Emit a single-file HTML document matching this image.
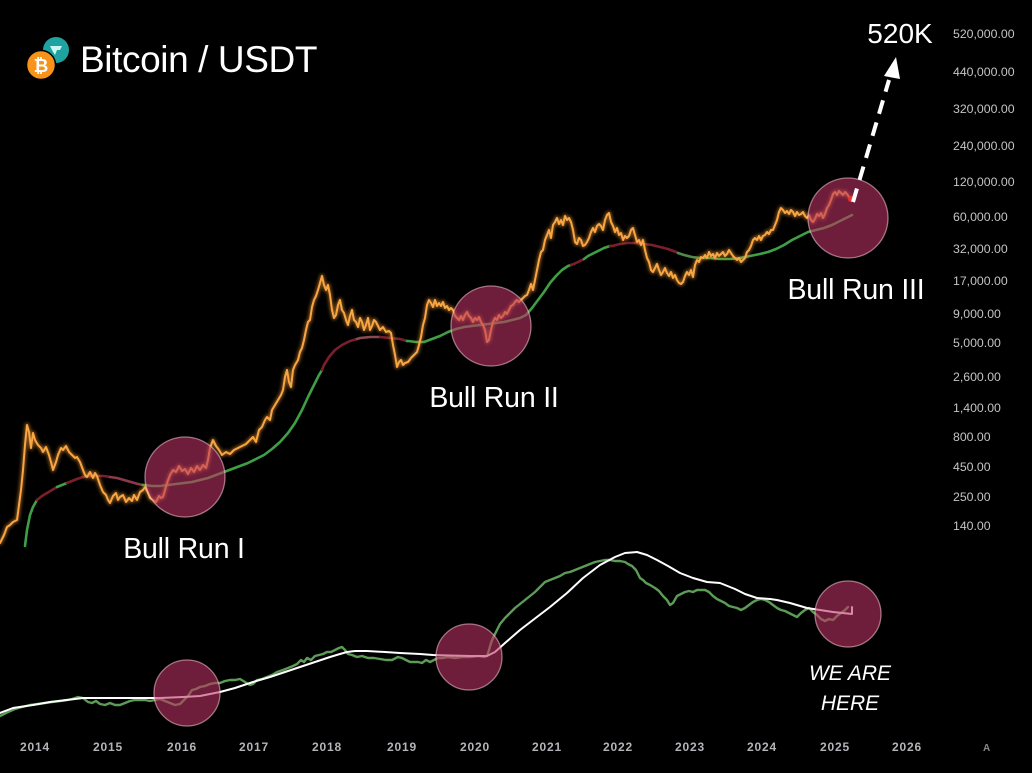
<!DOCTYPE html>
<html><head><meta charset="utf-8"><style>
html,body{margin:0;padding:0;background:#000;}
svg{display:block;}
</style></head><body>
<svg width="1032" height="773" viewBox="0 0 1032 773" xmlns="http://www.w3.org/2000/svg">
<defs>
<filter id="glow" x="-5%" y="-5%" width="110%" height="110%"><feGaussianBlur stdDeviation="1.5"/></filter>
<polyline id="price" fill="none" stroke-linecap="round" stroke-linejoin="round" points="0,543 4,535 7,527 10,525 13,522 17,520 19,505 21,490 23,470 25,445 27,425 29,432 31,448 33,433 35,440 38,445 41,448 43,452 46,447 49,455 51,462 53,470 56,462 58,455 61,448 63,450 66,446 69,452 72,455 75,458 77,457 80,462 83,470 85,475 87,477 90,472 93,478 95,473 97,476 100,485 103,492 106,495 108,500 110,503 113,496 116,493 118,500 120,497 123,495 126,502 129,498 132,501 134,495 137,500 140,492 143,490 145,487 148,493 150,498 153,500 156,502 159,496 161,498 163,497 165,490 167,483 170,475 173,470 176,472 179,466 182,471 185,469 188,474 191,468 194,472 197,466 200,470 203,465 206,468 208,460 210,448 213,440 216,446 219,450 222,455 226,452 230,454 234,450 238,448 242,446 246,444 250,440 253,437 256,442 259,430 262,427 265,420 267,417 270,420 272,410 275,405 278,400 281,395 283,390 285,377 287,370 289,382 291,387 293,370 295,365 298,360 300,352 302,348 304,340 306,330 308,322 310,320 312,307 314,300 316,296 318,290 320,283 322,276 324,285 326,290 328,285 330,295 332,310 334,318 336,315 338,305 340,300 342,310 344,313 346,320 348,325 350,316 352,310 354,320 356,322 358,327 360,318 362,322 364,330 366,325 368,318 370,330 372,326 374,320 376,322 378,326 380,330 383,327 386,332 389,331 391,333 393,345 395,355 397,367 399,362 401,360 403,365 405,363 408,362 411,358 414,355 417,352 419,345 421,337 423,325 425,318 427,305 429,300 431,303 433,307 435,300 437,306 439,303 441,306 443,302 445,308 447,306 449,310 451,308 453,310 455,316 457,318 459,320 461,316 463,320 465,315 467,312 469,316 471,318 473,322 475,318 477,320 479,317 481,322 483,325 485,330 487,342 489,340 491,330 493,322 495,318 497,320 499,315 501,318 503,316 505,312 507,314 509,310 511,306 513,305 515,302 517,300 519,302 521,300 523,298 525,296 527,295 529,290 531,284 533,290 535,280 537,270 539,260 541,252 543,250 545,240 547,235 549,230 551,238 553,225 555,222 557,218 559,224 561,220 563,225 565,216 567,220 569,218 571,222 573,230 575,242 577,244 579,238 581,240 583,246 585,245 587,242 589,238 591,232 593,228 595,232 597,226 599,224 601,226 603,230 605,220 607,215 609,213 611,222 613,226 615,232 617,228 619,235 621,233 623,240 625,236 627,238 629,236 631,230 633,228 635,235 637,242 639,240 641,245 643,240 645,250 647,258 649,262 651,270 653,272 655,268 657,264 659,270 661,275 663,272 665,268 667,273 669,276 671,272 673,278 675,275 677,280 679,283 681,284 683,282 685,276 687,272 689,275 691,270 693,277 695,265 697,260 699,262 701,257 703,258 705,255 707,258 709,252 711,256 713,254 715,258 717,253 719,256 721,254 723,252 725,256 727,254 729,250 731,253 733,256 735,258 737,260 739,258 741,262 743,260 745,258 747,252 749,250 751,246 753,240 755,238 757,240 759,236 761,240 763,236 765,235 767,232 769,234 771,230 773,230 775,225 777,220 779,212 781,208 783,210 785,213 787,211 789,214 791,210 793,212 795,216 797,212 799,215 801,214 803,212 805,216 807,218 809,215 811,220 813,222 815,219 817,214 819,216 821,213 823,218 825,214 827,208 829,205 831,200 833,194 835,192 837,195 839,191 841,193 843,195 845,192 847,194 849,197 851,198"/>
</defs>
<rect width="1032" height="773" fill="#000"/>

<!-- title -->
<circle cx="56" cy="50" r="13" fill="#1fa3a0"/>
<path d="M50 46 L62 46 L60 50 L57 50 L55 55 L52 50 Z" fill="#dff" opacity="0.9"/>
<circle cx="41" cy="65" r="14.5" fill="#f7931a" stroke="#000" stroke-width="1.5"/>
<text x="41" y="72" font-family="Liberation Sans, DejaVu Sans, sans-serif" font-size="18" font-weight="bold" fill="#fff" text-anchor="middle">₿</text>
<text x="80" y="72" font-family="Liberation Sans, sans-serif" font-size="37" fill="#fff" letter-spacing="-0.4">Bitcoin / USDT</text>

<!-- y axis labels -->
<g font-family="Liberation Sans, sans-serif" font-size="12.3" fill="#c4c4c8">
<text x="953" y="38">520,000.00</text>
<text x="953" y="76">440,000.00</text>
<text x="953" y="113">320,000.00</text>
<text x="953" y="150">240,000.00</text>
<text x="953" y="186">120,000.00</text>
<text x="953" y="221">60,000.00</text>
<text x="953" y="253">32,000.00</text>
<text x="953" y="285">17,000.00</text>
<text x="953" y="318">9,000.00</text>
<text x="953" y="347">5,000.00</text>
<text x="953" y="381">2,600.00</text>
<text x="953" y="412">1,400.00</text>
<text x="953" y="441">800.00</text>
<text x="953" y="471">450.00</text>
<text x="953" y="501">250.00</text>
<text x="953" y="530">140.00</text>
</g>

<!-- x axis labels -->
<g font-family="Liberation Sans, sans-serif" font-size="12" font-weight="bold" fill="#b4b4b8" text-anchor="middle" letter-spacing="0.8">
<text x="35" y="751">2014</text>
<text x="108" y="751">2015</text>
<text x="182" y="751">2016</text>
<text x="254" y="751">2017</text>
<text x="327" y="751">2018</text>
<text x="402" y="751">2019</text>
<text x="475" y="751">2020</text>
<text x="547" y="751">2021</text>
<text x="618" y="751">2022</text>
<text x="690" y="751">2023</text>
<text x="762" y="751">2024</text>
<text x="835" y="751">2025</text>
<text x="907" y="751">2026</text>
<text x="987" y="751" font-size="10" fill="#888">A</text>
</g>

<!-- price moving average -->
<g fill="none" stroke-width="2.6" stroke-linecap="round" stroke-linejoin="round">
<polyline stroke="#3f9f45" points="25,546 27,530 30,515 33,507 37,500"/>
<polyline stroke="#7a1f2c" points="37,500 42,496 47,493 52,490 57,487"/>
<polyline stroke="#3f9f45" points="57,487 62,485 67,483"/>
<polyline stroke="#7a1f2c" points="67,483 72,481 77,479 83,477 90,476 97,476 104,476 110,477"/>
<polyline stroke="#8a3a48" points="110,477 117,478 124,480 131,482 138,484 143,485"/>
<polyline stroke="#3f9f45" points="143,485 145,485 152,486 160,486 168,485 176,484 184,483 192,482 200,480 208,478 216,475 224,472 232,469 240,466 248,463 256,459 264,455 272,449 280,442 288,433 295,423 302,410 308,397 314,385 319,375 322,370"/>
<polyline stroke="#7a1f2c" points="322,370 324,365 329,357 335,350 342,345 350,341 357,339"/>
<polyline stroke="#8a4a52" points="357,339 360,338 370,337 380,337"/>
<polyline stroke="#7a1f2c" points="380,337 390,338 400,339 407,341"/>
<polyline stroke="#3f9f45" points="407,341 408,341 416,342 424,342 432,339 440,336 448,332 456,329 464,327 472,326 480,325 488,324 496,323 504,322 512,320 520,318 526,315 532,308 538,300 544,292 550,283 556,276 562,270 568,266 571,265"/>
<polyline stroke="#7a1f2c" points="571,265 574,264 580,261 584,259"/>
<polyline stroke="#3f9f45" points="584,259 588,256 596,252 604,248 610,246"/>
<polyline stroke="#7a1f2c" points="610,246 612,246 620,244 628,243 636,243 644,244 652,245 660,247 668,249 676,252 678,253"/>
<polyline stroke="#4f8a4a" points="678,253 684,255 692,257 700,258"/>
<polyline stroke="#3f9f45" points="700,258 710,258 720,259 730,259 740,258 750,256 760,254 768,252 776,249 784,245 792,240 800,236 808,232 816,230 824,228 832,225 840,221 848,217 852,215"/>
</g>

<!-- price line -->
<use href="#price" stroke="#f59a35" stroke-width="4.5" opacity="0.5" filter="url(#glow)"/>
<use href="#price" stroke="#f8a543" stroke-width="2"/>

<!-- lower indicator -->
<g fill="none" stroke-linecap="round" stroke-linejoin="round">
<polyline stroke="#5c9c57" stroke-width="2.4" points="0,716 8,712 15,709 22,707 30,705 38,704 45,703 52,702 60,701 67,700 72,699 78,697 83,698 88,702 92,703 96,701 100,704 105,705 110,703 115,705 120,705 125,703 130,701 135,700 140,700 145,700 150,701 155,700 160,699 165,701 170,703 175,705 180,704 184,700 188,696 192,690 196,689 200,687 205,686 210,684 215,683 220,683 225,681 230,680 235,680 240,679 245,682 250,685 253,684 257,680 262,679 267,677 272,675 277,672 283,670 288,668 293,666 297,664 301,660 304,662 307,658 311,660 315,656 319,655 323,654 327,652 331,652 335,650 339,648 342,647 345,650 348,654 352,655 357,657 362,656 368,658 374,658 380,659 386,660 392,660 398,657 402,658 406,660 410,662 414,662 418,662 422,663 426,660 430,662 434,660 438,658 443,658 448,657 455,658 462,657 470,657 478,656 484,657 487,656 489,650 491,643 493,638 496,632 500,624 505,618 510,613 515,608 520,604 525,600 530,596 535,592 540,587 545,582 550,580 555,578 560,576 565,573 570,572 575,570 580,568 585,566 590,564 595,562 600,561 605,560 610,560 615,561 620,561 625,562 628,564 632,566 636,570 640,578 643,580 646,583 650,585 655,588 659,591 663,596 667,600 670,605 673,603 677,596 681,594 685,592 689,591 693,592 697,590 701,590 705,590 709,592 713,596 717,599 721,601 725,603 729,606 733,607 737,608 741,610 745,608 749,605 753,602 757,600 761,599 765,600 769,602 773,605 777,608 781,610 785,611 789,613 793,615 797,617 801,613 805,610 809,608 813,612 817,615 821,619 825,621 829,619 833,620 837,616 841,613 845,610 848,607"/>
<polyline stroke="#ffffff" stroke-width="2" points="0,713 13,708 33,705 50,702 67,700 83,698 100,698 133,698 160,698 183,697 200,696 210,694 220,692 235,688 253,682 270,677 285,672 300,667 315,662 330,657 340,654 347,652 355,651 367,651 385,652 400,653 420,654 433,655 450,655.5 470,656 487,656 495,652 505,643 520,630 533,620 550,607 567,593 583,578 600,565 615,557 625,553 637,552 647,555 657,560 668,566 680,573 693,578 707,582 720,583 735,589 745,594 757,598 770,599 777,600 790,603 807,608 820,610 833,612 852,614 852,607"/>
</g>

<!-- circles -->
<g fill="rgba(190,50,100,0.58)" stroke="rgba(255,200,215,0.55)" stroke-width="1.3">
<circle cx="185" cy="477" r="40"/>
<circle cx="491" cy="326" r="40"/>
<circle cx="848" cy="218" r="40"/>
<circle cx="187" cy="693" r="33"/>
<circle cx="469" cy="657" r="33"/>
<circle cx="848" cy="614" r="33"/>
</g>

<!-- end red highlight -->
<circle cx="851" cy="199" r="3" fill="#ff2a2a" opacity="0.9"/>

<!-- dashed arrow -->
<line x1="853" y1="202" x2="889" y2="80" stroke="#fff" stroke-width="4" stroke-dasharray="14 9"/>
<polygon points="896,57 884,76 900,79" fill="#fff"/>

<!-- labels -->
<g font-family="Liberation Sans, DejaVu Sans, sans-serif" fill="#fff">
<text x="900" y="43" font-size="28" text-anchor="middle">520K</text>
<text x="184" y="558" font-size="28.5" text-anchor="middle" letter-spacing="-0.2">Bull Run I</text>
<text x="494" y="407" font-size="28.5" text-anchor="middle" letter-spacing="-0.2">Bull Run II</text>
<text x="856" y="299" font-size="28.5" text-anchor="middle" letter-spacing="-0.2">Bull Run III</text>
<text x="850" y="680" font-size="21" font-style="italic" text-anchor="middle">WE ARE</text>
<text x="850" y="710" font-size="21" font-style="italic" text-anchor="middle">HERE</text>
</g>
</svg>
</body></html>
